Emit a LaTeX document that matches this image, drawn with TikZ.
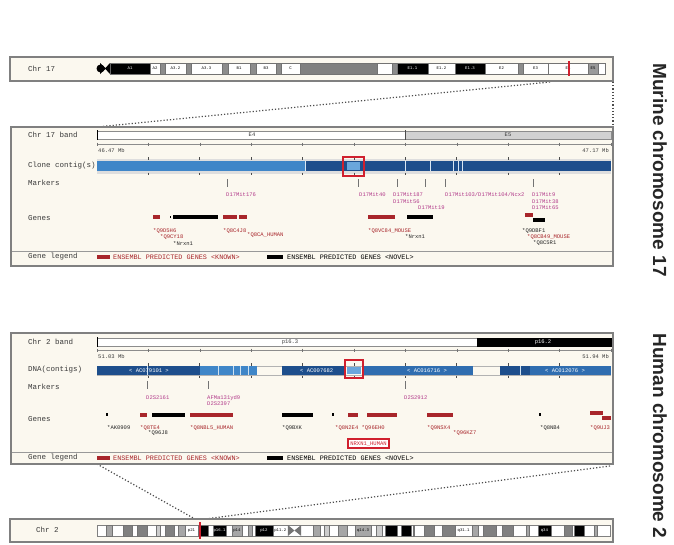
\documentclass[tikz,border=0pt]{standalone}
\usepackage{fontspec}
\setmainfont{Liberation Sans}
\newfontfamily\monof{Liberation Mono}
\definecolor{panelbg}{HTML}{FBF8EF}
\definecolor{cblue}{HTML}{3F86C8}
\definecolor{dblue}{HTML}{1D4E8C}
\definecolor{mblue}{HTML}{2F6DB0}
\definecolor{lblue}{HTML}{6AA6DC}
\definecolor{gred}{HTML}{A8262B}
\definecolor{mag}{HTML}{B23A8A}
\definecolor{selred}{HTML}{D0202E}
\definecolor{txt}{HTML}{3A3A3A}
\begin{document}
\begin{tikzpicture}[x=1pt,y=-1pt,
  panel/.style={draw=black!50,line width=1.4pt,fill=panelbg},
  lbl/.style={anchor=west,inner sep=0pt,font=\monof\fontsize{7.5}{7.5}\selectfont,text=txt},
  sc/.style={inner sep=0pt,font=\monof\fontsize{5.5}{5.5}\selectfont,text=txt},
  mk/.style={anchor=west,inner sep=0pt,font=\monof\fontsize{5.5}{5.5}\selectfont,text=mag},
  gk/.style={anchor=west,inner sep=0pt,font=\monof\fontsize{5.5}{5.5}\selectfont,text=gred},
  gn/.style={anchor=west,inner sep=0pt,font=\monof\fontsize{5.5}{5.5}\selectfont,text=black!85},
  bl/.style={inner sep=0pt,font=\monof\fontsize{4}{4}\selectfont},
  leg/.style={anchor=west,inner sep=0pt,font=\monof\fontsize{6.8}{6.8}\selectfont},
  kbar/.style={draw=gred,line width=3.2pt},
  nbar/.style={draw=black,line width=3.2pt},
  tk/.style={draw=black!55,line width=0.6pt},
  dotl/.style={dotted,line width=1.2pt,draw=black!70},
  ttl/.style={font=\fontsize{19}{19}\selectfont\bfseries,text=black!85,rotate=-90,inner sep=0pt}]
\useasboundingbox (0,0) rectangle (674,544);
\fill[white] (0,0) rectangle (674,544);

% ---------- connectors (dotted) ----------
\coordinate (zt1) at (550,82);
\coordinate (zt2) at (613,82);
\coordinate (pm1) at (97,127);
\coordinate (pm2) at (613,127);
\coordinate (ph1) at (97,464);
\coordinate (ph2) at (610,466);
\coordinate (zb1) at (195,519);
\coordinate (zb2) at (205,519);
\draw[dotl] (zt1) -- (pm1);
\draw[dotl] (zt2) -- (pm2);
\draw[dotl] (ph1) -- (zb1);
\draw[dotl] (ph2) -- (zb2);

% ---------- top box : mouse chr 17 ideogram ----------
\draw[panel] (10,57) rectangle (613,81);
\node[lbl] (c17) at (28,69) {Chr 17};
\draw[draw=black!50,line width=0.3pt,fill=white] (110,63) rectangle (605,74);
\foreach \a/\b/\c/\l/\t [count=\i] in {110/150/black/A1/white,150/160/white/A2/black,160/165/black!45//black,
  165/186/white/A3.2/black,186/191/black!45//black,191/222/white/A3.3/black,222/228/black!45//black,
  228/250/white/B1/black,250/256/black!45//black,256/276/white/B3/black,276/281/black!45//black,
  281/300/white/C/black,300/377/black!50//black,377/392/white//black,392/397/black!45//black,
  397/428/black/E1.1/white,428/455/white/E1.2/black,455/485/black/E1.3/white,485/518/white/E2/black,
  518/523/black!45//black,523/548/white/E3/black,548/588/white/E4/black,588/598/black!40/E5/black,598/605/white//black}
{\draw[draw=black!55,line width=0.3pt,fill=\c] (\a,63) rectangle (\b,74);
 \node[bl,text=\t] (mb\i) at ({(\a+\b)/2},68.5) {\l};}
\fill[black] (100.5,68.5) circle (4);
\fill[black] (100,63) -- (106,68.5) -- (100,74) -- cycle;
\fill[black] (105,68.5) -- (110,63) -- (110,74) -- cycle;
\draw[selred,line width=1.2pt] (569,61) -- (569,76);

% ---------- murine panel ----------
\draw[panel] (11,127) rectangle (613,266);
\node[lbl] (mL1) at (28,135) {Chr 17 band};
\node[lbl] (mL2) at (28,166) {Clone contig(s)};
\node[lbl] (mL3) at (28,183) {Markers};
\node[lbl] (mL4) at (28,218) {Genes};
\node[lbl] (mL5) at (28,257) {Gene legend};
% band row
\draw[fill=white,draw=black!45,line width=0.4pt] (97,131) rectangle (405,139);
\draw[fill=black!18,draw=black!45,line width=0.4pt] (405,131) rectangle (611,139);
\draw[black,line width=1pt] (97,130) -- (97,140);
\draw[black!70,line width=1pt] (405,130) -- (405,140);
\node[sc] (mE4) at (252,135) {E4};
\node[sc] (mE5) at (508,135) {E5};
% scale row
\draw[black!45,line width=0.4pt] (97,144) -- (611,144);
\foreach \k in {0,...,10} {\draw[tk] ({97+51.4*\k},142.5) -- ({97+51.4*\k},146);}
\node[sc,anchor=west] (ms1) at (98,150.5) {46.47 Mb};
\node[sc,anchor=east] (ms2) at (609,150.5) {47.17 Mb};
% contig row
\fill[black!13] (97,158.5) rectangle (611,173.5);
\fill[cblue] (97,161) rectangle (305,171);
\fill[dblue] (305,161) rectangle (611,171);
\foreach \x in {305,405,430,453,458,462} {\draw[white!80!cblue,line width=0.7pt] (\x,161) -- (\x,171);}
\foreach \k in {1,...,9} {\draw[black!70,line width=0.8pt] ({97+51.4*\k},157) -- ({97+51.4*\k},159.5);
  \draw[black!70,line width=0.8pt] ({97+51.4*\k},172.5) -- ({97+51.4*\k},175);}
\fill[lblue] (347,162) rectangle (360,170);
\draw[selred,line width=2pt] (343,157) rectangle (364,176);
% markers
\foreach \x in {227,358,397,425,445,533} {\draw[tk] (\x,179) -- (\x,187);}
\node[mk] (mm1) at (226,195) {D17Mit176};
\node[mk] (mm2) at (359,195) {D17Mit40};
\node[mk] (mm3) at (393,195) {D17Mit187};
\node[mk] (mm4) at (393,201.5) {D17Mit56};
\node[mk] (mm5) at (418,208) {D17Mit19};
\node[mk] (mm6) at (445,195) {D17Mit103/D17Mit104/Ncx2};
\node[mk] (mm7) at (532,195) {D17Mit9};
\node[mk] (mm8) at (532,201.5) {D17Mit38};
\node[mk] (mm9) at (532,208) {D17Mit65};
% genes
\draw[kbar] (153,217) -- (160,217);
\fill[black] (169.5,215.6) rectangle (171,218.4);
\draw[nbar] (173,217) -- (218,217);
\draw[kbar] (223,217) -- (237,217);
\draw[kbar] (239,217) -- (247,217);
\draw[kbar] (368,217) -- (395,217);
\draw[nbar] (407,217) -- (433,217);
\draw[kbar] (525,215) -- (533,215);
\draw[nbar] (533,220) -- (545,220);
\node[gk] (mg1) at (153,231) {*Q9D5H6};
\node[gk] (mg2) at (160,237) {*Q9CY18};
\node[gn] (mg3) at (173,243.5) {*Nrxn1};
\node[gk] (mg4) at (223,231) {*Q8C4J8};
\node[gk] (mg5) at (247,235) {*Q8CA\_HUMAN};
\node[gk] (mg6) at (368,231) {*Q8VC84\_MOUSE};
\node[gn] (mg7) at (405,237) {*Nrxn1};
\node[gn] (mg8) at (522,231) {*Q9DBF1};
\node[gk] (mg9) at (527,237) {*Q8CB49\_MOUSE};
\node[gn] (mg10) at (533,243.5) {*Q8C5R1};
% legend
\draw[black!40,line width=0.5pt] (12,251) -- (612,251);
\draw[kbar] (97,257) -- (110,257);
\node[leg,text=gred] (ml1) at (113,257) {ENSEMBL PREDICTED GENES <KNOWN>};
\draw[nbar] (267,257) -- (283,257);
\node[leg,text=black] (ml2) at (287,257) {ENSEMBL PREDICTED GENES <NOVEL>};

% ---------- human panel ----------
\draw[panel] (11,333) rectangle (613,464);
\node[lbl] (hL1) at (28,342) {Chr 2 band};
\node[lbl] (hL2) at (28,370) {DNA(contigs)};
\node[lbl] (hL3) at (28,387) {Markers};
\node[lbl] (hL4) at (28,419) {Genes};
\node[lbl] (hL5) at (28,458) {Gene legend};
% band row
\draw[fill=white,draw=black!45,line width=0.4pt] (97,338) rectangle (477,346);
\draw[fill=black,draw=black,line width=0.4pt] (477,338) rectangle (611,346);
\draw[black,line width=1pt] (97,337) -- (97,347);
\node[sc] (hp1) at (290,342) {p16.3};
\node[sc,text=white] (hp2) at (543,342) {p16.2};
% scale row
\draw[black!45,line width=0.4pt] (97,350) -- (611,350);
\foreach \k in {0,...,10} {\draw[tk] ({97+51.4*\k},348.5) -- ({97+51.4*\k},352);}
\node[sc,anchor=west] (hs1) at (98,356.5) {51.03 Mb};
\node[sc,anchor=east] (hs2) at (609,356.5) {51.94 Mb};
% contig row
\draw[black!30,line width=0.5pt] (97,366) -- (611,366);
\draw[black!30,line width=0.5pt] (97,375) -- (611,375);
\fill[dblue] (97,366) rectangle (200,375);
\fill[cblue] (200,366) rectangle (257,375);
\fill[dblue] (282,366) rectangle (345,375);
\fill[mblue] (363,366) rectangle (473,375);
\fill[dblue] (500,366) rectangle (530,375);
\fill[mblue] (530,366) rectangle (611,375);
\foreach \x in {147,218,233,240,248,520} {\draw[white!75!cblue,line width=0.7pt] (\x,366) -- (\x,375);}
\foreach \k in {1,...,9} {\draw[black!70,line width=0.8pt] ({97+51.4*\k},363) -- ({97+51.4*\k},365.5);
  \draw[black!70,line width=0.8pt] ({97+51.4*\k},375.5) -- ({97+51.4*\k},378);}
\node[sc,text=white] (hc1) at (149,370.5) {< AC079101 >};
\node[sc,text=white,anchor=west] (hc2) at (300,370.5) {< AC007682};
\node[sc,text=white] (hc3) at (427,370.5) {< AC016716 >};
\node[sc,text=white] (hc4) at (565,370.5) {< AC012076 >};
\fill[lblue] (347,367) rectangle (361,374);
\draw[selred,line width=2pt] (345,360) rectangle (363,378);
% markers
\foreach \x in {147,208,405} {\draw[tk] (\x,381) -- (\x,389);}
\node[mk] (hm1) at (146,398) {D2S2161};
\node[mk] (hm2) at (207,398) {AFMa131yd9};
\node[mk] (hm3) at (207,404) {D2S2397};
\node[mk] (hm4) at (404,398) {D2S2912};
% genes
\fill[black] (106,413) rectangle (108,416);
\draw[kbar] (140,415) -- (147,415);
\draw[nbar] (152,415) -- (185,415);
\draw[draw=gred,line width=3.8pt] (190,415) -- (233,415);
\draw[nbar] (282,415) -- (313,415);
\fill[black] (332,413) rectangle (334,416);
\draw[kbar] (348,415) -- (358,415);
\draw[kbar] (367,415) -- (397,415);
\draw[kbar] (427,415) -- (453,415);
\fill[black] (539,413) rectangle (541,416);
\draw[kbar] (590,413) -- (603,413);
\draw[kbar] (602,418) -- (611,418);
\node[gn] (hg1) at (107,428) {*AK0909};
\node[gk] (hg2) at (140,428) {*Q8TE4};
\node[gn] (hg3) at (148,433.5) {*Q96J8};
\node[gk] (hg4) at (190,428) {*Q8NBL5\_HUMAN};
\node[gn] (hg5) at (282,428) {*Q9BXK};
\node[gk] (hg6) at (335,428) {*Q8N2E4 *Q96EH0};
\node[gk] (hg7) at (427,428) {*Q9NSX4};
\node[gk] (hg8) at (453,433.5) {*Q96KZ7};
\node[gn] (hg9) at (540,428) {*Q8NB4};
\node[gk] (hg10) at (590,428) {*Q9UJ3};
\node[draw=selred,line width=2pt,fill=white,text=selred,inner sep=2pt,
      font=\monof\fontsize{5.5}{5.5}\selectfont] (hsel) at (368.5,443.5) {NRXN1\_HUMAN};
% legend
\draw[black!40,line width=0.5pt] (12,452) -- (612,452);
\draw[kbar] (97,458) -- (110,458);
\node[leg,text=gred] (hl1) at (113,458) {ENSEMBL PREDICTED GENES <KNOWN>};
\draw[nbar] (267,458) -- (283,458);
\node[leg,text=black] (hl2) at (287,458) {ENSEMBL PREDICTED GENES <NOVEL>};

% ---------- bottom box : human chr 2 ideogram ----------
\draw[panel] (10,519) rectangle (613,542);
\node[lbl] (c2) at (36,530) {Chr 2};
\draw[draw=black!50,line width=0.3pt,fill=white] (97,525) rectangle (610,536);
\foreach \a/\b/\c [count=\i] in {4.4/7.1/black!35,12.2/16.7/black!50,19.2/24/black!50,27.9/30/black!20,
  32.1/36.6/black!50,38.6/41.8/black!35,47.8/52.9/black,55/61.3/black,64.1/68.6/black!35,71.5/73.5/black!35,
  75/83.3/black,102.7/106/black!35,107.5/110.2/black!20,114.4/118.8/black!35,122.4/129.9/black!35,
  132.5/135.1/black!20,136.8/142.2/black,144.1/148.7/black,149.9/150.5/black!20,154.9/159.8/black!50,
  163.7/169.7/black!50,178/180.6/black!35,183/189.4/black!50,191.9/197.4/black!50,203.3/204.9/black!35,
  209/215.3/black,221.5/225.2/black!50,226.1/231/black,235.6/237.3/black!35}
{\draw[draw=black!55,line width=0.3pt,fill=\c] ({97+\a*2.1094},525) rectangle ({97+\b*2.1094},536);}
\fill[black!55] ({97+90.5*2.1094},525) -- ({97+93.6*2.1094},530.5) -- ({97+90.5*2.1094},536) -- cycle;
\fill[black!55] ({97+96.8*2.1094},525) -- ({97+93.6*2.1094},530.5) -- ({97+96.8*2.1094},536) -- cycle;
\node[bl] (hb1) at ({97+44.8*2.1094},530.5) {p21};
\node[bl,text=white] (hb2) at ({97+58.1*2.1094},530.5) {p16.1};
\node[bl] (hb3) at ({97+66.3*2.1094},530.5) {p14};
\node[bl,text=white] (hb4) at ({97+79.1*2.1094},530.5) {p12};
\node[bl] (hb5) at ({97+86.9*2.1094},530.5) {p11.2};
\node[bl] (hb6) at ({97+126.1*2.1094},530.5) {q14.3};
\node[bl] (hb7) at ({97+173.8*2.1094},530.5) {q31.1};
\node[bl,text=white] (hb8) at ({97+212.1*2.1094},530.5) {q34};
\draw[selred,line width=1.2pt] (200,522) -- (200,539);

% ---------- titles ----------
\node[ttl] (tm) at (660,170) {Murine chromosome 17};
\node[ttl] (th) at (660,436) {Human chromosome 2};
\end{tikzpicture}
\end{document}
